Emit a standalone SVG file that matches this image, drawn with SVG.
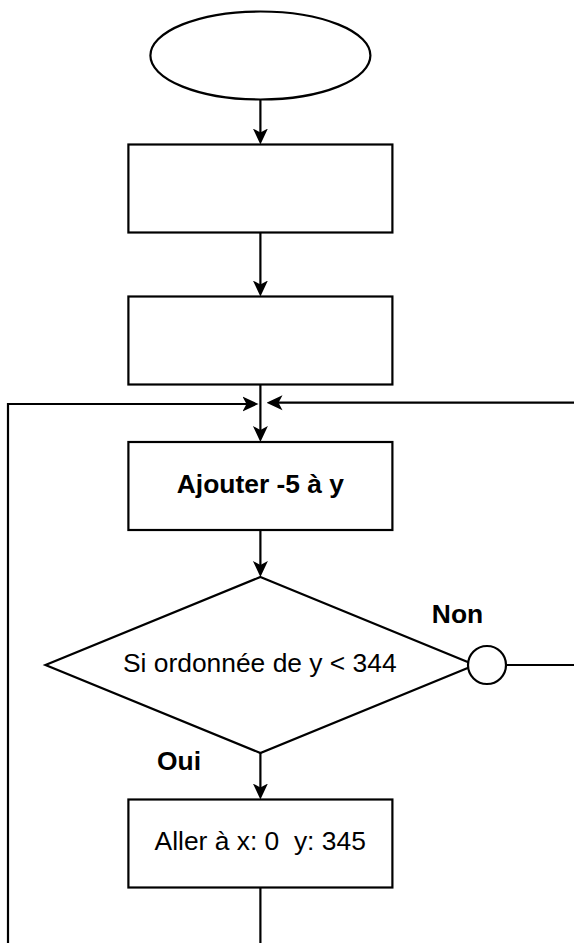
<svg xmlns="http://www.w3.org/2000/svg" width="574" height="943" viewBox="0 0 574 943">
  <style>
    .shape { fill: #ffffff; stroke: #000000; stroke-width: 2.2; }
    .edge { fill: none; stroke: #000000; stroke-width: 2.2; }
    .arrow { fill: none; stroke: #000000; stroke-width: 2.2; marker-end: url(#head); }
    .lbl { font-family: "Liberation Sans", Arial, Helvetica, sans-serif; font-size: 26.4px; fill: #000000; text-anchor: middle; }
    .bold { font-weight: bold; }
  </style>
  <defs>
    <marker id="head" viewBox="0 0 16 16" refX="12" refY="8" markerWidth="16" markerHeight="16" markerUnits="userSpaceOnUse" orient="auto">
      <path d="M0,0.5 L16,8 L0,15.5 L4,8 Z" fill="#000000" stroke="none"/>
    </marker>
  </defs>
  <rect width="574" height="943" fill="#ffffff"/>

  <g id="connectors">
    <line class="arrow" x1="260.4" y1="99.5" x2="260.4" y2="140.5"/>
    <line class="arrow" x1="260.4" y1="232.5" x2="260.4" y2="292.5"/>
    <line class="arrow" x1="260.4" y1="384.5" x2="260.4" y2="438"/>
    <line class="arrow" x1="260.4" y1="530" x2="260.4" y2="573"/>
    <line class="arrow" x1="260.4" y1="753" x2="260.4" y2="795.5"/>
    <line class="edge" x1="260.4" y1="887.5" x2="260.4" y2="943"/>
    <polyline class="arrow" points="8,943 8,404 254.5,404"/>
    <polyline class="arrow" points="574,402.7 270.5,402.7"/>
    <line class="edge" x1="506" y1="665" x2="574" y2="665"/>
  </g>

  <g id="start">
    <ellipse class="shape" cx="260.4" cy="55.5" rx="110" ry="44"/>
  </g>
  <g id="step1">
    <rect class="shape" x="128.4" y="144.5" width="264" height="88"/>
  </g>
  <g id="step2">
    <rect class="shape" x="128.4" y="296.5" width="264" height="88"/>
  </g>
  <g id="ajouter">
    <rect class="shape" x="128.4" y="442" width="264" height="88"/>
    <text class="lbl bold" x="260.4" y="493.3">Ajouter -5 à y</text>
  </g>
  <g id="decision">
    <polygon class="shape" points="260.4,577 475,665 260.4,753 45.5,665"/>
    <text class="lbl" x="259.8" y="671.7">Si ordonnée de y &lt; 344</text>
  </g>
  <g id="connector-circle">
    <circle class="shape" cx="487" cy="665" r="19"/>
  </g>
  <g id="label-non">
    <text class="lbl bold" x="457.5" y="623">Non</text>
  </g>
  <g id="label-oui">
    <text class="lbl bold" x="179" y="770">Oui</text>
  </g>
  <g id="aller">
    <rect class="shape" x="128.4" y="799.5" width="264" height="88"/>
    <text class="lbl" x="260.2" y="850" xml:space="preserve">Aller à x: 0&#160; y: 345</text>
  </g>
</svg>
